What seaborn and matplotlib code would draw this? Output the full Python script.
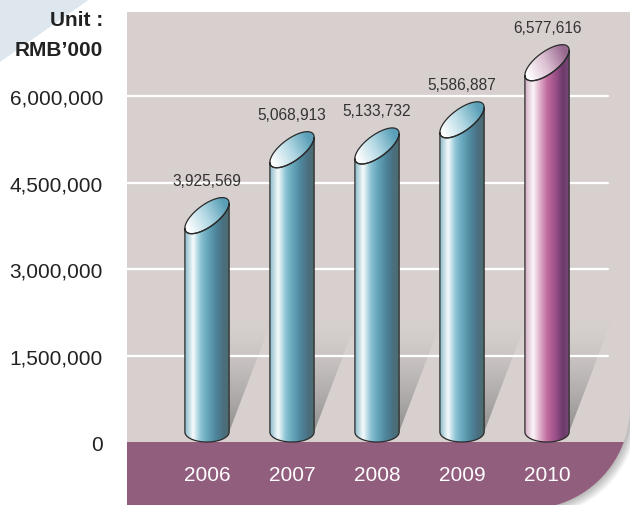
import numpy as np
import matplotlib
matplotlib.use('Agg')
import matplotlib.pyplot as plt
import seaborn as sns
import pandas as pd
from matplotlib.path import Path
from matplotlib.patches import PathPatch, Polygon, Rectangle
from matplotlib.colors import LinearSegmentedColormap

# ---------------- data ----------------
years = ['2006', '2007', '2008', '2009', '2010']
values = [3925569, 5068913, 5133732, 5586887, 6577616]
value_labels = ['3,925,569', '5,068,913', '5,133,732', '5,586,887', '6,577,616']
ytick_values = [0, 1500000, 3000000, 4500000, 6000000]
ytick_labels = ['0', '1,500,000', '3,000,000', '4,500,000', '6,000,000']
unit_lines = ['Unit :', 'RMB\u2019000']

sns.set_theme(style='white')
plt.rcParams['font.family'] = ['Liberation Sans', 'DejaVu Sans']

W, H = 630, 506
fig = plt.figure(figsize=(6.3, 5.06), dpi=100)
fig.patch.set_facecolor('white')

# ---------------- background decoration (pixel coords) ----------------
bg = fig.add_axes([0, 0, 1, 1], zorder=0)
bg.set_xlim(0, W)
bg.set_ylim(H, 0)
bg.axis('off')
bg.add_patch(Polygon([(0, 0), (90, 0), (0, 63)], closed=True, color='#dfe7ee', lw=0))


def panel_path(dx=0.0, dy=0.0):
    R = 102
    cx, cy = 528, 408
    verts = [(127, 13), (630, 13), (630, cy)]
    th = np.linspace(0, np.pi / 2, 50)
    verts += [(cx + R * np.cos(t), cy + R * np.sin(t)) for t in th]
    verts += [(127, 515), (127, 13)]
    verts = [(x + dx, y + dy) for x, y in verts]
    codes = [Path.MOVETO] + [Path.LINETO] * (len(verts) - 2) + [Path.CLOSEPOLY]
    return Path(verts, codes)


for k in range(1, 9):
    bg.add_patch(PathPatch(panel_path(k * 0.9, k * 0.9), facecolor='black',
                           edgecolor='none', alpha=0.035))
panel = PathPatch(panel_path(), facecolor='#d7d0ce', edgecolor='none')
bg.add_patch(panel)
band = Rectangle((127, 443), 510, 80, facecolor='#925e7d', edgecolor='none')
bg.add_patch(band)
band.set_clip_path(panel)

# ---------------- main axes ----------------
ax = fig.add_axes([127 / W, 0, (W - 127) / W, (H - 13) / H], zorder=1)
ax.patch.set_alpha(0)

df = pd.DataFrame({'year': years, 'value': values})
sns.barplot(data=df, x='year', y='value', order=years, width=0.52,
            color='#6aa5bb', ax=ax)

XL = (-0.941, 4.976)
YL = (-1.0925e6, 7.457e6)
ax.set_xlim(*XL)
ax.set_ylim(*YL)
ax_w_px = W - 127
ax_h_px = H - 13
kx = (XL[1] - XL[0]) / ax_w_px
ky = (YL[1] - YL[0]) / ax_h_px

blue_stops = [(0, '#8dbccb'), (0.18, '#f6fbfd'), (0.35, '#8cc3d3'), (0.5, '#66a6bc'),
              (0.68, '#4f879d'), (0.85, '#4a6f80'), (1, '#4e6b6a')]
pink_stops = [(0, '#d4b0c4'), (0.18, '#fcf5f9'), (0.35, '#dca6c5'), (0.5, '#c06a9d'),
              (0.68, '#9b5089'), (0.85, '#6c3a6a'), (1, '#7a4c78')]
cmap_blue = LinearSegmentedColormap.from_list('b', blue_stops)
cmap_pink = LinearSegmentedColormap.from_list('p', pink_stops)
top_blue = LinearSegmentedColormap.from_list('tb', ['#ffffff', '#b4d9e4', '#5a9fb7'])
top_pink = LinearSegmentedColormap.from_list('tp', ['#ffffff', '#dcc0d2', '#98698f'])
shadow_cmap = LinearSegmentedColormap.from_list(
    'sh', [(0.5, 0.5, 0.5, 0.8), (0.58, 0.58, 0.58, 0.4), (0.75, 0.75, 0.75, 0.0)])

s_px, e_px, eb_px = 12.5, 13.0, 10.0
edge = '#2b2b2b'

bars = list(ax.patches)
for i, p in enumerate(bars):
    xl = p.get_x()
    w = p.get_width()
    v = p.get_height()
    xr = xl + w
    xc = xl + w / 2
    rx = w / 2
    p.set_visible(False)
    cm = cmap_pink if i == len(bars) - 1 else cmap_blue
    tcm = top_pink if i == len(bars) - 1 else top_blue

    yb_side = eb_px * ky
    # shadow
    sh_top = yb_side + 113 * ky
    sh = Polygon([(xc, yb_side), (xc, sh_top), (xr + 43 * kx, sh_top), (xr, yb_side)],
                 closed=True, facecolor='none', edgecolor='none')
    ax.add_patch(sh)
    g = np.linspace(0, 1, 100)[:, None]
    im = ax.imshow(g, extent=(xc, xr + 45 * kx, yb_side, sh_top), origin='lower',
                   aspect='auto', cmap=shadow_cmap, zorder=1.5, interpolation='bilinear')
    im.set_clip_path(sh)

    # body path
    t = np.linspace(np.pi, 2 * np.pi, 60)
    top_arc = [(xc + rx * np.cos(tt), v + (s_px * np.cos(tt) + e_px * np.sin(tt)) * ky) for tt in t]
    t2 = np.linspace(0, -np.pi, 60)
    bot_arc = [(xc + rx * np.cos(tt), yb_side + eb_px * np.sin(tt) * ky) for tt in t2]
    verts = [(xl, yb_side), (xl, v - s_px * ky)] + top_arc + [(xr, yb_side)] + bot_arc + [(xl, yb_side)]
    codes = [Path.MOVETO] + [Path.LINETO] * (len(verts) - 2) + [Path.CLOSEPOLY]
    body = PathPatch(Path(verts, codes), facecolor='none', edgecolor=edge, lw=0.9, zorder=5)
    ax.add_patch(body)
    grad = np.linspace(0, 1, 256)[None, :]
    im2 = ax.imshow(grad, extent=(xl, xr, -0.1e6, v + 40 * ky), origin='lower',
                    aspect='auto', cmap=cm, zorder=3, interpolation='bilinear')
    im2.set_clip_path(body)

    # top face
    t3 = np.linspace(0, 2 * np.pi, 120)
    ell = [(xc + rx * np.cos(tt), v + (s_px * np.cos(tt) + e_px * np.sin(tt)) * ky) for tt in t3]
    top = Polygon(ell, closed=True, facecolor='none', edgecolor=edge, lw=0.9, zorder=5)
    ax.add_patch(top)
    uu, vv = np.meshgrid(np.linspace(0, 1, 64), np.linspace(0, 1, 64))
    G = np.clip((uu * 1.2 + vv * 0.5 - 0.15) / 1.3, 0, 1)
    ytop = v + 20 * ky
    ybot = v - 20 * ky
    im3 = ax.imshow(G, extent=(xl, xr, ybot, ytop), origin='lower', aspect='auto',
                    cmap=tcm, zorder=4, interpolation='bilinear')
    im3.set_clip_path(top)

    # value label
    ax.text(xc, v + 35 * ky, value_labels[i], ha='center', va='center',
            fontsize=11.2, color='#333333', zorder=6)
    # year label
    ax.text(xc, -32 * ky, years[i], ha='center', va='center', fontsize=15,
            color='white', zorder=6)

# gridlines
for yv in ytick_values[1:]:
    ax.axhline(yv, xmin=0, xmax=(608 - 127) / ax_w_px, color='white', lw=1.6, zorder=2)

ax.set_xlim(*XL)
ax.set_ylim(*YL)
ax.set_xticks([])
ax.set_yticks(ytick_values)
ax.set_yticklabels(ytick_labels, fontsize=15, color='#222222')
ax.tick_params(axis='y', length=0, pad=17.3)
ax.set_xlabel('')
ax.set_ylabel('')
for sp in ax.spines.values():
    sp.set_visible(False)
ax.grid(False)

fig.text(103 / W, 1 - 21 / H, unit_lines[0], ha='right', va='center', fontsize=15,
         fontweight='bold', color='#222222')
fig.text(103 / W, 1 - 50 / H, unit_lines[1], ha='right', va='center', fontsize=15,
         fontweight='bold', color='#222222')

fig.savefig('out.png', dpi=100)
